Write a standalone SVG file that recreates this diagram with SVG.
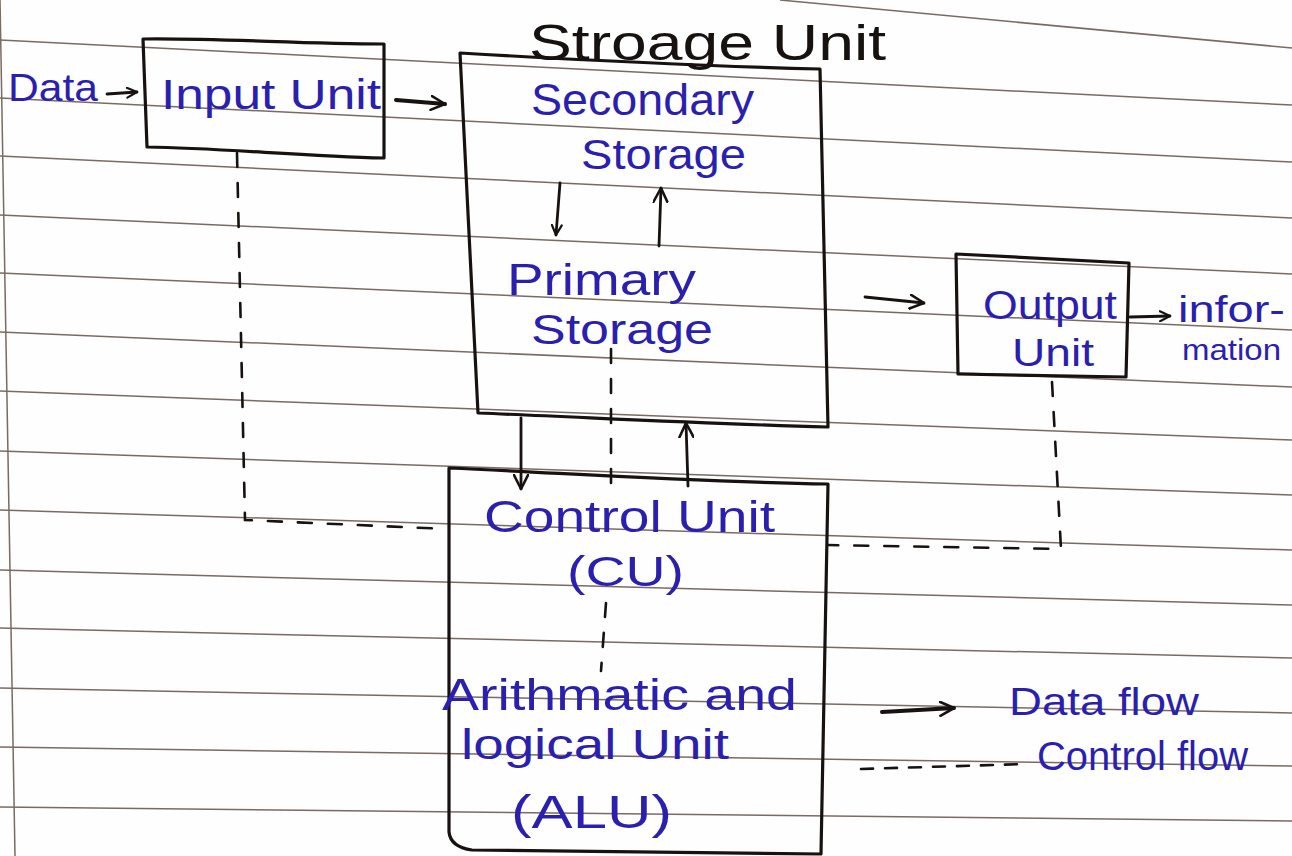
<svg xmlns="http://www.w3.org/2000/svg" width="1292" height="856" viewBox="0 0 1292 856">
  <defs>
    <style>
      .paper { fill: #fefefe; }
      .rule { fill: none; stroke: #7b6a63; stroke-width: 1.5; }
      .box { fill: none; stroke: #17120f; stroke-width: 3.2; stroke-linejoin: round; stroke-linecap: round; }
      .flow { fill: none; stroke: #17120f; stroke-width: 2.8; stroke-linecap: round; }
      .ctrl { fill: none; stroke: #17120f; stroke-width: 2.6; stroke-linecap: round; stroke-dasharray: 14 16; }
      .ink { font-family: "Liberation Sans", Arial, sans-serif; fill: #2b1fae; }
      .inkblack { font-family: "Liberation Sans", Arial, sans-serif; fill: #17120f; }
    </style>
    <marker id="head" viewBox="0 0 12 12" refX="11" refY="6" markerWidth="12" markerHeight="12" markerUnits="userSpaceOnUse" orient="auto">
      <path d="M1,1 L11,6 L1,11" fill="none" stroke="#17120f" stroke-width="2.2" stroke-linecap="round" stroke-linejoin="round"/>
    </marker>
    <marker id="headBig" viewBox="0 0 16 16" refX="15" refY="8" markerWidth="16" markerHeight="16" markerUnits="userSpaceOnUse" orient="auto">
      <path d="M1,1 L15,8 L1,15" fill="none" stroke="#17120f" stroke-width="2.6" stroke-linecap="round" stroke-linejoin="round"/>
    </marker>
  </defs>

  <!-- lined paper -->
  <g id="paper">
    <rect class="paper" x="0" y="0" width="1292" height="856"/>
    <path class="rule" d="M780,0 L1292,48"/>
    <path class="rule" d="M0,40 L1292,105"/>
    <path class="rule" d="M0,98 L1292,162"/>
    <path class="rule" d="M0,156 L1292,218"/>
    <path class="rule" d="M0,215 L1292,274"/>
    <path class="rule" d="M0,273 L1292,330"/>
    <path class="rule" d="M0,332 L1292,387"/>
    <path class="rule" d="M0,391 L1292,440"/>
    <path class="rule" d="M0,451 L1292,495"/>
    <path class="rule" d="M0,510 L1292,550"/>
    <path class="rule" d="M0,570 L1292,605"/>
    <path class="rule" d="M0,628 L1292,658"/>
    <path class="rule" d="M0,688 L1292,713"/>
    <path class="rule" d="M0,747 L1292,766"/>
    <path class="rule" d="M0,807 L1292,821"/>
    <path class="rule" d="M0,0 L15,856"/>
  </g>

  <!-- Storage Unit title -->
  <g id="storage-title">
    <text class="inkblack" x="529" y="60" font-size="50" textLength="357" lengthAdjust="spacingAndGlyphs">Stroage Unit</text>
  </g>

  <!-- Input unit -->
  <g id="input-unit">
    <path class="box" d="M143,39 C220,38 300,44 384,44 L384,158 C300,156 220,148 147,147 Z"/>
    <text class="ink" x="161" y="109" font-size="42" textLength="220" lengthAdjust="spacingAndGlyphs">Input Unit</text>
  </g>

  <!-- Storage unit -->
  <g id="storage-unit">
    <path class="box" d="M460,53 C580,60 700,66 820,69 L828,427 C710,424 600,418 478,413 Z"/>
    <text class="ink" x="531" y="115" font-size="44" textLength="223" lengthAdjust="spacingAndGlyphs">Secondary</text>
    <text class="ink" x="581" y="169" font-size="42" textLength="165" lengthAdjust="spacingAndGlyphs">Storage</text>
    <text class="ink" x="507" y="295" font-size="44" textLength="189" lengthAdjust="spacingAndGlyphs">Primary</text>
    <text class="ink" x="531" y="344" font-size="42" textLength="182" lengthAdjust="spacingAndGlyphs">Storage</text>
  </g>

  <!-- Output unit -->
  <g id="output-unit">
    <path class="box" d="M956,254 L1129,263 L1126,377 L958,374 Z"/>
    <text class="ink" x="983" y="319" font-size="40" textLength="134" lengthAdjust="spacingAndGlyphs">Output</text>
    <text class="ink" x="1012" y="366" font-size="38" textLength="82" lengthAdjust="spacingAndGlyphs">Unit</text>
  </g>

  <!-- Control unit + ALU -->
  <g id="cpu-unit">
    <path class="box" d="M449,468 C580,474 700,482 828,484 L821,854 L472,850 C458,848 450,842 449,832 Z"/>
    <text class="ink" x="484" y="532" font-size="44" textLength="291" lengthAdjust="spacingAndGlyphs">Control Unit</text>
    <text class="ink" x="567" y="586" font-size="42" textLength="117" lengthAdjust="spacingAndGlyphs">(CU)</text>
    <text class="ink" x="442" y="710" font-size="44" textLength="355" lengthAdjust="spacingAndGlyphs">Arithmatic and</text>
    <text class="ink" x="461" y="759" font-size="42" textLength="268" lengthAdjust="spacingAndGlyphs">logical Unit</text>
    <text class="ink" x="511" y="828" font-size="46" textLength="161" lengthAdjust="spacingAndGlyphs">(ALU)</text>
  </g>

  <!-- external labels -->
  <g id="data-in">
    <text class="ink" x="8" y="101" font-size="38" textLength="90" lengthAdjust="spacingAndGlyphs">Data</text>
  </g>
  <g id="info-out">
    <text class="ink" x="1178" y="322" font-size="36" textLength="107" lengthAdjust="spacingAndGlyphs">infor-</text>
    <text class="ink" x="1182" y="360" font-size="30" textLength="99" lengthAdjust="spacingAndGlyphs">mation</text>
  </g>

  <!-- connectors -->
  <g id="connectors">
    <!-- data flow -->
    <path class="flow" d="M107,94 L137,92" marker-end="url(#head)"/>
    <path class="flow" d="M396,100 L445,104" marker-end="url(#headBig)" style="stroke-width:4"/>
    <path class="flow" d="M560,183 L556,235" marker-end="url(#head)"/>
    <path class="flow" d="M659,246 L661,188" marker-end="url(#headBig)"/>
    <path class="flow" d="M521,418 L521,489" marker-end="url(#headBig)"/>
    <path class="flow" d="M688,486 L686,423" marker-end="url(#headBig)"/>
    <path class="flow" d="M865,297 L924,303" marker-end="url(#headBig)"/>
    <path class="flow" d="M1130,317 L1170,316" marker-end="url(#head)"/>
    <!-- control flow -->
    <path class="ctrl" d="M237,153 L245,520 L447,529"/>
    <path class="ctrl" d="M611,349 L611,491"/>
    <path class="ctrl" d="M606,603 L601,671"/>
    <path class="ctrl" d="M1052,382 L1061,549 L828,545"/>
  </g>

  <!-- legend -->
  <g id="legend">
    <path class="flow" d="M882,712 L954,708" marker-end="url(#headBig)" style="stroke-width:4"/>
    <text class="ink" x="1009" y="715" font-size="38" textLength="190" lengthAdjust="spacingAndGlyphs">Data flow</text>
    <path class="ctrl" d="M861,769 L1026,764" style="stroke-dasharray:12 12"/>
    <text class="ink" x="1037" y="770" font-size="40" textLength="211" lengthAdjust="spacingAndGlyphs">Control flow</text>
  </g>
</svg>
